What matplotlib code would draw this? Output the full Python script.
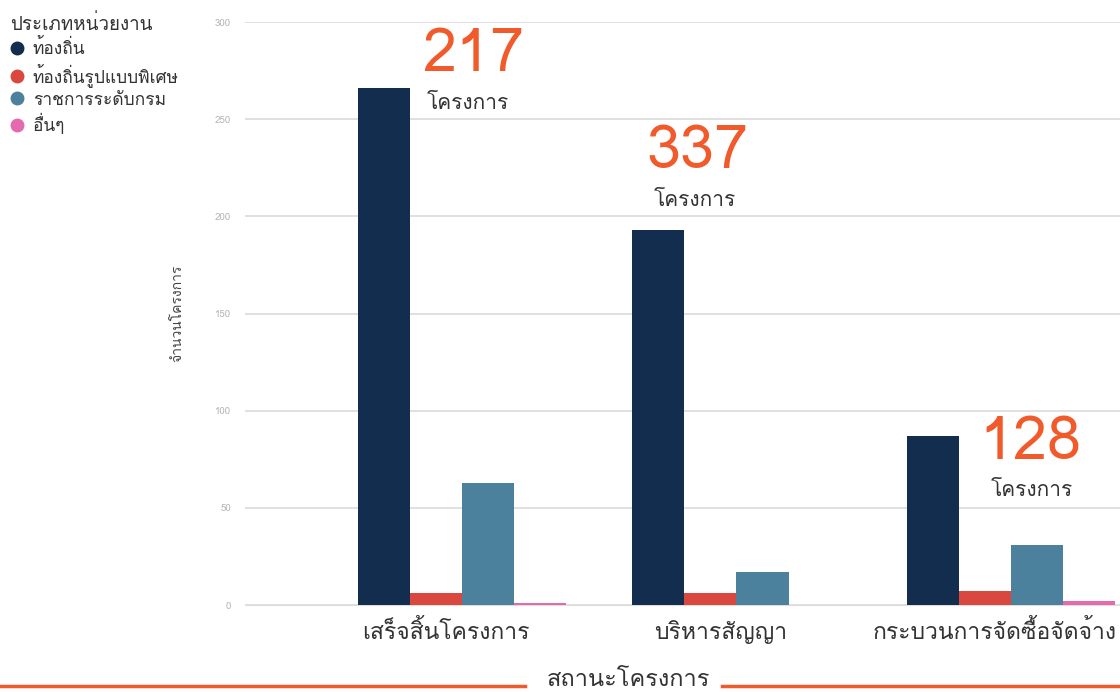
import matplotlib
matplotlib.use("Agg")
import matplotlib.pyplot as plt
import matplotlib.transforms as mtransforms
import numpy as np
from matplotlib import font_manager
from matplotlib.ft2font import FT2Font
from matplotlib.lines import Line2D


def find_thai_font():
    # pick the first installed font that has Thai glyphs
    for f in font_manager.fontManager.ttflist:
        try:
            if 0x0E01 in FT2Font(f.fname).get_charmap():
                return f.name
        except Exception:
            pass
    return 'DejaVu Sans'


thai = find_thai_font()
plt.rcParams['font.family'] = [thai, 'DejaVu Sans']

# data
categories = ['เสร็จสิ้นโครงการ', 'บริหารสัญญา', 'กระบวนการจัดซื้อจัดจ้าง']
series = ['ท้องถิ่น', 'ท้องถิ่นรูปแบบพิเศษ', 'ราชการระดับกรม', 'อื่นๆ']
values = {
    'ท้องถิ่น': [266, 193, 87],
    'ท้องถิ่นรูปแบบพิเศษ': [6, 6, 7],
    'ราชการระดับกรม': [63, 17, 31],
    'อื่นๆ': [1, 0, 2],
}
totals = ['217', '337', '128']
colors = ['#122d4d', '#d9473f', '#4b819c', '#e36aae']
orange = '#f15a2b'

fig = plt.figure(figsize=(11.2, 6.92), dpi=100)
ax = fig.add_axes([0.21875, 0.1257, 0.78125, 0.8425])

x = np.arange(len(categories))
w = 0.19
for i, s in enumerate(series):
    ax.bar(x + (i - 1.5) * w, values[s], width=w, color=colors[i], label=s, zorder=3)

ax.set_xlim(-0.79, 2.397)
ax.set_ylim(0, 300)
ax.set_yticks(np.arange(0, 301, 50))
ax.grid(axis='y', color='#dddddd', linewidth=1.3, zorder=0)
for sp in ['top', 'right', 'left']:
    ax.spines[sp].set_visible(False)
ax.spines['bottom'].set_color('#dddddd')
ax.tick_params(axis='y', length=0, labelsize=7, labelcolor='#b5b5b5', pad=10)
ax.tick_params(axis='x', length=0, labelsize=16.5, labelcolor='#333333', pad=11)
ax.set_xticks(x)
ax.set_xticklabels(categories)
shift = mtransforms.ScaledTranslation(-16 / 100, 0, fig.dpi_scale_trans)
for lab in ax.get_xticklabels():
    lab.set_transform(lab.get_transform() + shift)
ax.set_ylabel('จำนวนโครงการ', fontsize=10, color='#444444', labelpad=22)

# big totals
num_pos = [(0.04, 283), (0.858, 233), (2.07, 83)]
word_pos = [(0.02, 258), (0.85, 208), (2.075, 59)]
for t, (nx, ny), (wx, wy) in zip(totals, num_pos, word_pos):
    ax.text(nx, ny, t, fontsize=44, color=orange, ha='center', va='center')
    ax.text(wx, wy, 'โครงการ', fontsize=15, color='#333333', ha='center', va='center')

# legend
handles = [Line2D([], [], marker='o', linestyle='', markersize=9, color=c) for c in colors]
leg = fig.legend(handles, series, title='ประเภทหน่วยงาน', loc='upper left',
                 bbox_to_anchor=(0.0, 0.995), frameon=False, fontsize=12.5,
                 title_fontsize=13.5, handletextpad=0.5, labelspacing=0.3,
                 handlelength=0.8, borderaxespad=0.2, alignment='left')
leg.get_title().set_fontweight('normal')
leg.get_title().set_color('#333333')
for t in leg.get_texts():
    t.set_color('#333333')

# x axis title with orange rules
fig.text(0.561, 0.018, 'สถานะโครงการ', fontsize=17, color='#333333', ha='center', va='center')
fig.add_artist(Line2D([0, 0.469], [0.009, 0.009], color=orange, linewidth=2.5))
fig.add_artist(Line2D([0.645, 1.0], [0.009, 0.009], color=orange, linewidth=2.5))

fig.savefig('out.png', dpi=100)
